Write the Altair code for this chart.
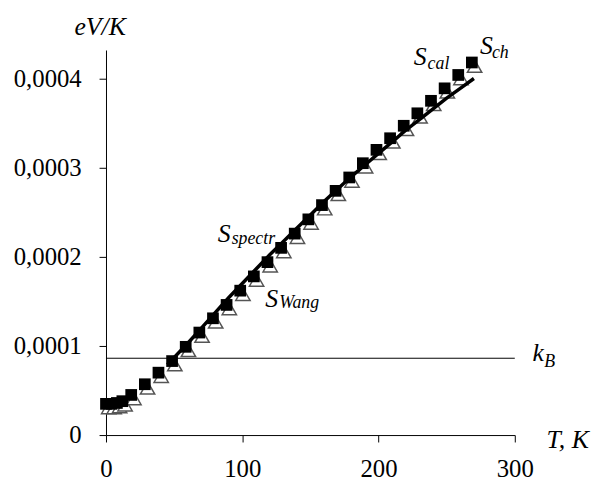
import altair as alt
import pandas as pd

# ---- data ----
T_cal = [0, 4, 8, 12, 18.5, 28.5, 38.5, 48.5, 58.5, 68.5, 78.5, 88.5, 98.5, 108.5,
         118.5, 128.5, 138.5, 148.5, 158.5, 168.5, 178.5, 188.5, 198.5, 208.5,
         218.5, 228.5, 238.5, 248.5, 258.5, 268.5]
S_cal = [3.5e-5, 3.5e-5, 3.6e-5, 3.8e-5, 4.5e-5, 5.7e-5, 7.0e-5, 8.3e-5, 9.9e-5, 1.15e-4,
         1.31e-4, 1.46e-4, 1.62e-4, 1.78e-4, 1.94e-4, 2.10e-4, 2.26e-4, 2.42e-4,
         2.58e-4, 2.74e-4, 2.89e-4, 3.05e-4, 3.20e-4, 3.33e-4, 3.47e-4, 3.61e-4,
         3.75e-4, 3.89e-4, 4.04e-4, 4.18e-4]

T_wang = [2, 6, 10, 14, 20.5, 30.5, 40.5, 50.5, 60.5, 70.5, 80.5, 90.5, 100.5, 110.5,
          120.5, 130.5, 140.5, 150.5, 160.5, 170.5, 180.5, 190.5, 200.5, 210.5,
          220.5, 230.5, 240.5, 250.5, 260.5, 270.5]
S_wang = [3.1e-5, 3.1e-5, 3.2e-5, 3.4e-5, 4.1e-5, 5.3e-5, 6.6e-5, 7.9e-5, 9.5e-5, 1.11e-4,
          1.27e-4, 1.42e-4, 1.58e-4, 1.74e-4, 1.90e-4, 2.06e-4, 2.22e-4, 2.38e-4,
          2.54e-4, 2.70e-4, 2.85e-4, 3.01e-4, 3.16e-4, 3.29e-4, 3.43e-4, 3.57e-4,
          3.71e-4, 3.85e-4, 4.00e-4, 4.14e-4]

T_spectr = [45, 60, 70, 80, 90, 100, 110, 120, 130, 140, 150, 160, 170, 180, 190,
            200, 210, 220, 230, 240, 250, 260, 270]
S_spectr = [7.9e-5, 1.03e-4, 1.20e-4, 1.37e-4, 1.54e-4, 1.70e-4, 1.86e-4, 2.02e-4,
            2.17e-4, 2.32e-4, 2.47e-4, 2.62e-4, 2.76e-4, 2.90e-4, 3.03e-4, 3.16e-4,
            3.29e-4, 3.42e-4, 3.54e-4, 3.66e-4, 3.78e-4, 3.89e-4, 4.00e-4]

KB = 8.617e-5
x_ticks = [0, 100, 200, 300]
y_ticks = [0, 0.0001, 0.0002, 0.0003, 0.0004]

# annotation texts (main letters and subscripts) in data units
main_text = ["S", "S", "S", "S", "k", "T, K", "eV/K"]
main_x = [82.1, 116.9, 225.9, 274.5, 313.0, 323.2, -23.2]
main_y = [2.167e-4, 1.433e-4, 4.156e-4, 4.278e-4, 8.33e-5, -1.44e-5, 4.489e-4]
sub_text = ["spectr", "Wang", "cal", "ch", "B"]
sub_x = [92.2, 127.1, 236.0, 283.2, 321.7]
sub_y = [2.144e-4, 1.422e-4, 4.111e-4, 4.233e-4, 7.67e-5]

FONT = "Liberation Serif"

xs = alt.Scale(domain=[0, 300], nice=False, zero=False)
ys = alt.Scale(domain=[0, 0.000432], nice=False)

cal_df = pd.DataFrame({"T": T_cal, "S": S_cal})
wang_df = pd.DataFrame({"T": T_wang, "S": S_wang})
spec_df = pd.DataFrame({"T": T_spectr, "S": S_spectr})
kb_df = pd.DataFrame({"T": [0], "T2": [300], "S": [KB]})
main_df = pd.DataFrame({"T": main_x, "S": main_y, "t": main_text})
sub_df = pd.DataFrame({"T": sub_x, "S": sub_y, "t": sub_text})

x_axis = alt.Axis(values=x_ticks, title=None, grid=False, tickSize=7, labelPadding=15,
                  labelFont=FONT, labelFontSize=25, labelColor="black",
                  domainColor="black", tickColor="black", labelFlush=False)
y_axis = alt.Axis(values=y_ticks, title=None, grid=False, tickSize=7, labelPadding=18,
                  labelFont=FONT, labelFontSize=25, labelColor="black",
                  domainColor="black", tickColor="black",
                  labelExpr="datum.value == 0 ? '0' : replace(format(datum.value, '.4f'), '.', ',')")

X = alt.X("T:Q", scale=xs, axis=x_axis)
Y = alt.Y("S:Q", scale=ys, axis=y_axis)

kb_rule = alt.Chart(kb_df).mark_rule(color="black", strokeWidth=1).encode(
    x=X, x2="T2:Q", y=Y,
)

tri = alt.Chart(wang_df).mark_point(shape="triangle-up", size=210, filled=True,
                                     fill="white", stroke="#555555", strokeWidth=1.5,
                                     opacity=1).encode(x=X, y=Y)

sq = alt.Chart(cal_df).mark_point(shape="square", size=140, filled=True,
                                   color="black", opacity=1).encode(x=X, y=Y)

line = alt.Chart(spec_df).mark_line(color="black", strokeWidth=3.5).encode(x=X, y=Y)

main_lbl = alt.Chart(main_df).mark_text(font=FONT, fontStyle="italic", fontSize=26,
                                         align="left", baseline="alphabetic",
                                         color="black").encode(x=X, y=Y, text="t:N")

sub_lbl = alt.Chart(sub_df).mark_text(font=FONT, fontStyle="italic", fontSize=18,
                                       align="left", baseline="alphabetic",
                                       color="black").encode(x=X, y=Y, text="t:N")

chart = alt.layer(kb_rule, tri, sq, line, main_lbl, sub_lbl).properties(
    width=413, height=389,
    autosize=alt.AutoSizeParams(type="none"),
    padding={"left": 99, "top": 40, "right": 78, "bottom": 46},
    background="white",
).configure_view(stroke=None)

chart.save("out.html", embed_options={"renderer": "svg", "actions": False})
